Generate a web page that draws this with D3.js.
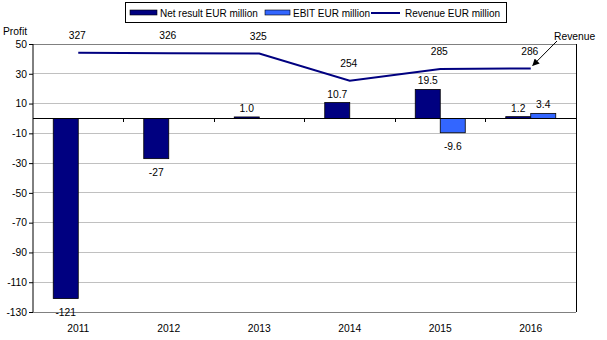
<!DOCTYPE html>
<html>
<head>
<meta charset="utf-8">
<script src="https://cdn.jsdelivr.net/npm/d3@7/dist/d3.min.js"></script>
<style>
  html, body { margin: 0; padding: 0; background: #fff; }
  svg { display: block; font-family: "Liberation Sans", Arial, sans-serif; }
  text { fill: #000; }
</style>
</head>
<body>
<svg id="chart" width="607" height="340"></svg>
<script>
// Yearly results, EUR million
const years = ["2011", "2012", "2013", "2014", "2015", "2016"];
const netResult = [-121, -27, 1.0, 10.7, 19.5, 1.2];
const ebit = [null, null, null, null, -9.6, 3.4];
const revenue = [327, 326, 325, 254, 285, 286];
const profitTicks = [50, 30, 10, -10, -30, -50, -70, -90, -110, -130];
const seriesNames = ["Net result EUR million", "EBIT EUR million", "Revenue EUR million"];

const svg = d3.select("#chart");
const FS = 10.3;
const LFS = 10;
const navy = "#000080";
const blue = "#3366FF";

const plotL = 33, plotR = 576, plotT = 44, plotB = 312;

const x = d3.scaleBand().domain(years).range([plotL, plotR]).paddingInner(0).paddingOuter(0);
const sub = d3.scaleBand().domain(["net", "ebit"]).range([-25, 25]).padding(0);
const y = d3.scaleLinear().domain([-130, 50]).range([plotB, plotT]);
// revenue sits on its own (hidden) secondary scale
const yRev = d3.scaleLinear().domain([-350, 350]).range([plotB, plotT]);

const loc = d3.formatLocale({ decimal: ".", thousands: ",", grouping: [3], currency: ["", ""], minus: "-" });
const fmtInt = loc.format("d"), fmtDec = loc.format(".1f");
const fmt = v => Math.abs(v) >= 20 ? fmtInt(v) : fmtDec(v);

// horizontal gridlines
svg.append("g").selectAll("line")
  .data(profitTicks.filter(t => t !== 0))
  .join("line")
  .attr("x1", plotL).attr("x2", plotR)
  .attr("y1", d => y(d)).attr("y2", d => y(d))
  .attr("stroke", d => d === 50 ? "#808080" : "#c0c0c0")
  .attr("stroke-width", 1)
  .attr("shape-rendering", "crispEdges");

// plot frame: bottom and right edges
svg.append("line").attr("x1", plotL).attr("x2", plotR).attr("y1", plotB).attr("y2", plotB)
  .attr("stroke", "#808080").attr("shape-rendering", "crispEdges");
svg.append("line").attr("x1", plotR).attr("x2", plotR).attr("y1", plotT).attr("y2", plotB)
  .attr("stroke", "#000").attr("shape-rendering", "crispEdges");

// bars
const bars = [];
years.forEach((yr, i) => {
  bars.push({ year: yr, key: "net", v: netResult[i] });
  if (ebit[i] !== null) bars.push({ year: yr, key: "ebit", v: ebit[i] });
});

svg.append("g").selectAll("rect")
  .data(bars)
  .join("rect")
  .attr("x", d => x(d.year) + x.bandwidth() / 2 + sub(d.key))
  .attr("width", sub.bandwidth())
  .attr("y", d => Math.min(y(d.v), y(0)))
  .attr("height", d => Math.abs(y(d.v) - y(0)))
  .attr("fill", d => d.key === "net" ? navy : blue)
  .attr("stroke", "#000")
  .attr("stroke-width", 0.8);

// bar value labels
svg.append("g").selectAll("text")
  .data(bars)
  .join("text")
  .attr("x", d => x(d.year) + x.bandwidth() / 2 + sub(d.key) + sub.bandwidth() / 2)
  .attr("y", d => d.v >= 0 ? y(d.v) - 5 : y(d.v) + 17)
  .attr("text-anchor", "middle")
  .attr("font-size", FS)
  .text(d => fmt(d.v));

// y axis
const yAxis = d3.axisLeft(y).tickValues(profitTicks).tickSize(4).tickPadding(2).tickFormat(fmtInt);
const gy = svg.append("g").attr("transform", `translate(${plotL},0)`).call(yAxis);
gy.select(".domain").attr("stroke", "#000").attr("d", `M0,${plotT}V${plotB}`);
gy.selectAll(".tick line").attr("stroke", "#000");
gy.selectAll(".tick text").attr("font-size", FS).attr("font-family", "Liberation Sans, Arial, sans-serif").attr("fill", "#000");

// zero line with category ticks
svg.append("line").attr("x1", plotL).attr("x2", plotR).attr("y1", y(0)).attr("y2", y(0))
  .attr("stroke", "#000").attr("shape-rendering", "crispEdges");
svg.append("g").selectAll("line")
  .data(years.slice(1))
  .join("line")
  .attr("x1", d => x(d)).attr("x2", d => x(d))
  .attr("y1", y(0)).attr("y2", y(0) + 4)
  .attr("stroke", "#000").attr("shape-rendering", "crispEdges");

// year labels along the bottom
svg.append("g").selectAll("text")
  .data(years)
  .join("text")
  .attr("x", d => x(d) + x.bandwidth() / 2)
  .attr("y", plotB + 20)
  .attr("text-anchor", "middle")
  .attr("font-size", FS)
  .text(d => d);

// axis title
svg.append("text").attr("x", 3).attr("y", 35).attr("font-size", FS).text("Profit");

// revenue line
const revPts = years.map((yr, i) => [x(yr) + x.bandwidth() / 2, yRev(revenue[i])]);
svg.append("path")
  .attr("d", d3.line()(revPts))
  .attr("fill", "none")
  .attr("stroke", navy)
  .attr("stroke-width", 2);

svg.append("g").selectAll("text")
  .data(revenue)
  .join("text")
  .attr("x", (d, i) => x(years[i]) + x.bandwidth() / 2 - 1)
  .attr("y", d => yRev(d) - 14)
  .attr("text-anchor", "middle")
  .attr("font-size", FS)
  .text(d => fmtInt(d));

// revenue annotation with arrow
const defs = svg.append("defs");
defs.append("marker").attr("id", "arrow")
  .attr("viewBox", "0 0 10 10").attr("refX", 9).attr("refY", 5)
  .attr("markerWidth", 9).attr("markerHeight", 7).attr("markerUnits", "userSpaceOnUse")
  .attr("orient", "auto")
  .append("path").attr("d", "M0,0L10,5L0,10Z").attr("fill", "#000");
const lastPt = revPts[revPts.length - 1];
svg.append("line")
  .attr("x1", 557).attr("y1", 41)
  .attr("x2", lastPt[0] + 2).attr("y2", lastPt[1] - 3)
  .attr("stroke", "#000").attr("stroke-width", 1)
  .attr("marker-end", "url(#arrow)");
svg.append("text").attr("x", 554).attr("y", 40).attr("font-size", FS).text("Revenue");

// legend
const lg = svg.append("g");
lg.append("rect").attr("x", 125.5).attr("y", 2.5).attr("width", 381).attr("height", 20)
  .attr("fill", "#fff").attr("stroke", "#000");
lg.append("rect").attr("x", 130).attr("y", 10).attr("width", 27).attr("height", 5)
  .attr("fill", navy).attr("stroke", "#000").attr("stroke-width", 0.6);
lg.append("text").attr("x", 160).attr("y", 16.5).attr("font-size", LFS).text(seriesNames[0]);
lg.append("rect").attr("x", 265).attr("y", 10).attr("width", 25).attr("height", 5)
  .attr("fill", blue).attr("stroke", "#000").attr("stroke-width", 0.6);
lg.append("text").attr("x", 293).attr("y", 16.5).attr("font-size", LFS).text(seriesNames[1]);
lg.append("line").attr("x1", 371).attr("x2", 400).attr("y1", 13).attr("y2", 13)
  .attr("stroke", navy).attr("stroke-width", 2);
lg.append("text").attr("x", 405).attr("y", 16.5).attr("font-size", LFS).text(seriesNames[2]);
</script>
</body>
</html>
